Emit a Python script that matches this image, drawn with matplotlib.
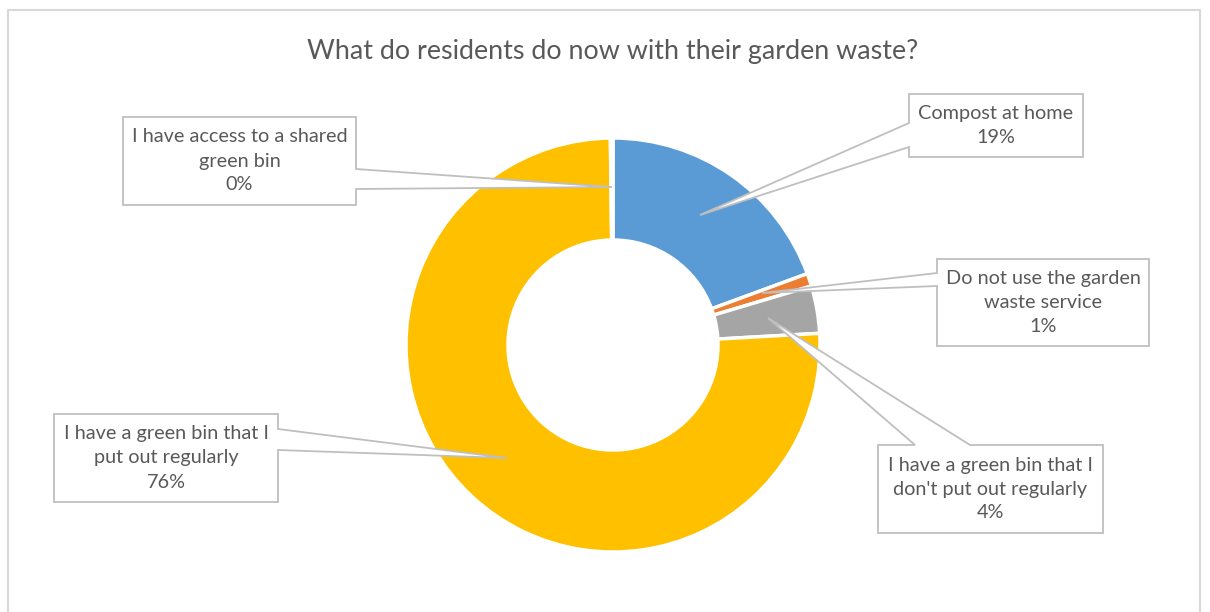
import matplotlib
matplotlib.use("Agg")
import matplotlib.pyplot as plt
from matplotlib.patches import Polygon, Rectangle

# ---- data ----
title = "What do residents do now with their garden waste?"
categories = [
    "Compost at home",
    "Do not use the garden\nwaste service",
    "I have a green bin that I\ndon't put out regularly",
    "I have a green bin that I\nput out regularly",
    "I have access to a shared\ngreen bin",
]
values = [19.4, 1.0, 3.7, 75.7, 0.2]
pct_labels = ["19%", "1%", "4%", "76%", "0%"]
colors = ["#5B9BD5", "#ED7D31", "#A5A5A5", "#FFC000", "#4472C4"]

# ---- layout (image pixel coords, y from top) ----
W, H = 1210, 612
def Y(y):
    return H - y

center = (613, 345)
R_out, ring_w = 207, 102

# box (x0, y0, x1, y1), pointer base points (on box edge), tip
callouts = [
    dict(box=(909, 94, 1083, 157), edge="left", base=[(909, 123), (909, 147)], tip=(700, 215)),
    dict(box=(937, 259, 1149, 346), edge="left", base=[(937, 273), (937, 286)], tip=(762, 293)),
    dict(box=(878, 445, 1103, 533), edge="top", base=[(915, 445), (970, 445)], tip=(768, 318)),
    dict(box=(54, 414, 278, 502), edge="right", base=[(278, 429), (278, 450)], tip=(507, 458)),
    dict(box=(123, 117, 356, 205), edge="right", base=[(356, 169), (356, 189)], tip=(612, 187)),
]

fig = plt.figure(figsize=(W / 100, H / 100), dpi=100)
ax = fig.add_axes([0, 0, 1, 1])

ax.pie(values, colors=colors, startangle=90, counterclock=False,
       radius=R_out, center=(center[0], Y(center[1])),
       wedgeprops=dict(width=ring_w, edgecolor="white", linewidth=2.5))

def callout_poly(c):
    x0, y0, x1, y1 = c["box"]
    (bx1, by1), (bx2, by2) = c["base"]
    tx, ty = c["tip"]
    e = c["edge"]
    if e == "left":
        pts = [(x0, y0), (x1, y0), (x1, y1), (x0, y1), (bx2, by2), (tx, ty), (bx1, by1)]
    elif e == "right":
        pts = [(x0, y0), (x1, y0), (bx1, by1), (tx, ty), (bx2, by2), (x1, y1), (x0, y1)]
    else:  # top
        pts = [(x0, y0), (bx1, by1), (tx, ty), (bx2, by2), (x1, y0), (x1, y1), (x0, y1)]
    return [(px, Y(py)) for px, py in pts]

font = "Lato"
for cat, pct, c in zip(categories, pct_labels, callouts):
    ax.add_patch(Polygon(callout_poly(c), closed=True, facecolor="white",
                         edgecolor="#BFBFBF", linewidth=1.3, zorder=5))
    x0, y0, x1, y1 = c["box"]
    ax.text((x0 + x1) / 2, Y((y0 + y1) / 2), cat + "\n" + pct, ha="center", va="center",
            fontsize=14.3, color="#595959", family=font, linespacing=1.5, zorder=6)

ax.text(613, Y(51), title, ha="center", va="center", fontsize=19.4,
        color="#595959", family=font)

ax.add_patch(Rectangle((8, Y(640)), 1192, 630, fill=False, edgecolor="#D9D9D9",
                       linewidth=1.5, zorder=1))

ax.set_xlim(0, W)
ax.set_ylim(0, H)
ax.set_aspect("auto")
ax.axis("off")
fig.savefig("out.png", dpi=100, facecolor="white")
